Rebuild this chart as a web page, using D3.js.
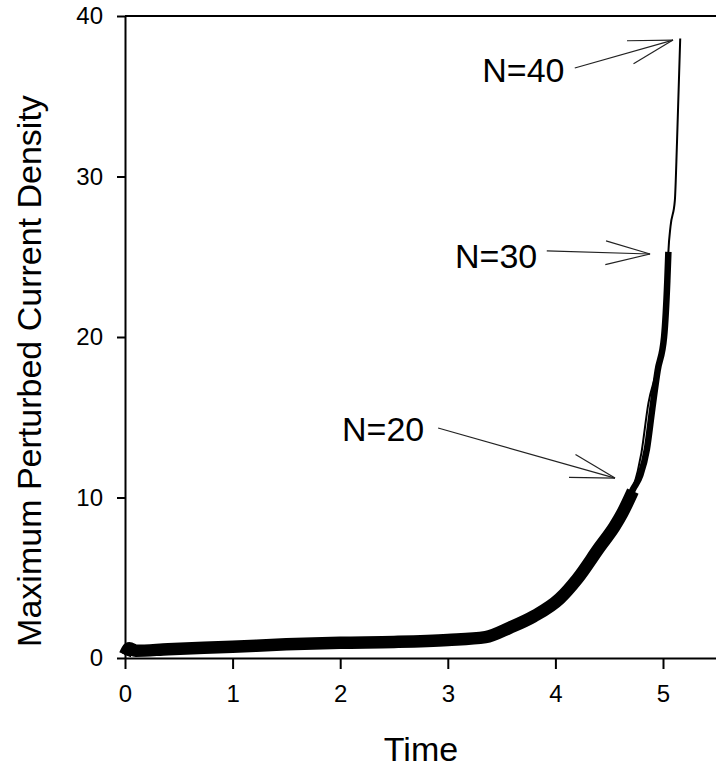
<!DOCTYPE html>
<html>
<head>
<meta charset="utf-8">
<script src="https://cdn.jsdelivr.net/npm/d3@7/dist/d3.min.js"></script>
<style>
  html, body { margin: 0; padding: 0; background: #fff; }
  svg { display: block; }
  text { font-family: "Liberation Sans", Arial, sans-serif; fill: #000; }
</style>
</head>
<body>
<div id="chart"></div>
<script>
// ---------- data ----------
const xTicks = [0, 1, 2, 3, 4, 5];
const yTicks = [0, 10, 20, 30, 40];

const n20Time  = [0, 0.04, 0.1, 0.4, 1.0, 1.5, 2.0, 2.5, 3.0, 3.35, 3.58, 3.8, 4.04, 4.2, 4.41, 4.55, 4.62, 4.72];
const n20Value = [0.2, 0.6, 0.45, 0.55, 0.7, 0.85, 0.95, 1.0, 1.12, 1.3, 1.9, 2.6, 3.7, 4.9, 6.9, 8.2, 9.0, 10.4];

const n30Time  = [0, 0.04, 0.1, 0.4, 1.0, 1.5, 2.0, 2.5, 3.0, 3.35, 3.58, 3.8, 4.04, 4.2, 4.41, 4.55, 4.62, 4.72, 4.79, 4.85, 4.90, 4.95, 5.01, 5.04, 5.05];
const n30Value = [0.2, 0.6, 0.45, 0.55, 0.7, 0.85, 0.95, 1.0, 1.12, 1.3, 1.9, 2.6, 3.7, 4.9, 6.9, 8.2, 9.0, 10.5, 11.4, 13.0, 15.5, 17.9, 20.0, 23.5, 25.3];

const n40Time  = [0, 0.04, 0.1, 0.4, 1.0, 1.5, 2.0, 2.5, 3.0, 3.35, 3.58, 3.8, 4.04, 4.2, 4.41, 4.55, 4.62, 4.72, 4.80, 4.865, 4.93, 5.01, 5.04, 5.05, 5.07, 5.11, 5.13, 5.16];
const n40Value = [0.2, 0.6, 0.45, 0.55, 0.7, 0.85, 0.95, 1.0, 1.12, 1.3, 1.9, 2.6, 3.7, 4.9, 6.9, 8.2, 9.0, 10.5, 12.8, 15.9, 17.6, 20.0, 23.5, 25.3, 26.9, 28.5, 32.1, 38.6];

// annotations (data coordinates)
const annLabels = ["N=20", "N=30", "N=40"];
const annTextT  = [2.017, 3.067, 3.32];
const annTextV  = [13.52, 24.3, 35.9];
const annFromT  = [2.91, 3.92, 4.18];
const annFromV  = [14.33, 25.36, 36.76];
const annTipT   = [4.554, 4.88, 5.093];
const annTipV   = [11.21, 25.17, 38.5];

// ---------- layout ----------
const W = 716, H = 769;
const svg = d3.select("#chart").append("svg").attr("width", W).attr("height", H);

const x = d3.scaleLinear().domain([0, 5.5]).range([125, 716.8]);
const y = d3.scaleLinear().domain([0, 40]).range([658, 16]);

// frame top line
svg.append("line")
  .attr("x1", x(0)).attr("x2", x(5.5))
  .attr("y1", y(40)).attr("y2", y(40))
  .attr("stroke", "#000").attr("stroke-width", 2);

// x axis
const xAxis = svg.append("g")
  .attr("transform", `translate(0,${y(0)})`)
  .call(d3.axisBottom(x).tickValues(xTicks).tickFormat(d3.format("d")).tickSize(11).tickSizeOuter(0).tickPadding(16));
xAxis.select(".domain").attr("stroke", "#000").attr("stroke-width", 2);
xAxis.selectAll(".tick line").attr("stroke", "#000").attr("stroke-width", 2);
xAxis.selectAll(".tick text").attr("font-size", 24).attr("font-family", "Liberation Sans, Arial, sans-serif").attr("fill", "#000");

// y axis
const yAxis = svg.append("g")
  .attr("transform", `translate(${x(0)},0)`)
  .call(d3.axisLeft(y).tickValues(yTicks).tickFormat(d3.format("d")).tickSize(8).tickSizeOuter(0).tickPadding(14));
yAxis.select(".domain").attr("stroke", "#000").attr("stroke-width", 2);
yAxis.selectAll(".tick line").attr("stroke", "#000").attr("stroke-width", 2);
yAxis.selectAll(".tick text").attr("font-size", 24).attr("font-family", "Liberation Sans, Arial, sans-serif").attr("fill", "#000");

// axis titles
svg.append("text")
  .attr("x", 421).attr("y", 761)
  .attr("text-anchor", "middle")
  .attr("font-size", 34)
  .text("Time");

svg.append("text")
  .attr("transform", `translate(41,371) rotate(-90)`)
  .attr("text-anchor", "middle")
  .attr("font-size", 34)
  .text("Maximum Perturbed Current Density");

// ---------- series ----------
const line = d3.line().x(d => x(d[0])).y(d => y(d[1])).curve(d3.curveMonotoneX);
const zip = (a, b) => a.map((v, i) => [v, b[i]]);

const plot = svg.append("g");
plot.append("path").datum(zip(n20Time, n20Value))
  .attr("d", line).attr("fill", "none").attr("stroke", "#000")
  .attr("stroke-width", 12.5).attr("stroke-linejoin", "round").attr("stroke-linecap", "butt");
plot.append("path").datum(zip(n30Time, n30Value))
  .attr("d", line).attr("fill", "none").attr("stroke", "#000")
  .attr("stroke-width", 6.5).attr("stroke-linejoin", "round").attr("stroke-linecap", "butt");
plot.append("path").datum(zip(n40Time, n40Value))
  .attr("d", line).attr("fill", "none").attr("stroke", "#000")
  .attr("stroke-width", 2).attr("stroke-linejoin", "round").attr("stroke-linecap", "butt");

// ---------- annotations ----------
const ann = svg.append("g");
annLabels.forEach((lab, i) => {
  ann.append("text")
    .attr("x", x(annTextT[i])).attr("y", y(annTextV[i]))
    .attr("font-size", 34)
    .text(lab);
  const fx = x(annFromT[i]), fy = y(annFromV[i]);
  const tx = x(annTipT[i]),  ty = y(annTipV[i]);
  ann.append("line")
    .attr("x1", fx).attr("y1", fy).attr("x2", tx).attr("y2", ty)
    .attr("stroke", "#222").attr("stroke-width", 1.2);
  const ang = Math.atan2(fy - ty, fx - tx);
  const len = 46, spread = 15 * Math.PI / 180;
  [ang - spread, ang + spread].forEach(a => {
    ann.append("line")
      .attr("x1", tx).attr("y1", ty)
      .attr("x2", tx + len * Math.cos(a)).attr("y2", ty + len * Math.sin(a))
      .attr("stroke", "#222").attr("stroke-width", 1.2);
  });
});
</script>
</body>
</html>
